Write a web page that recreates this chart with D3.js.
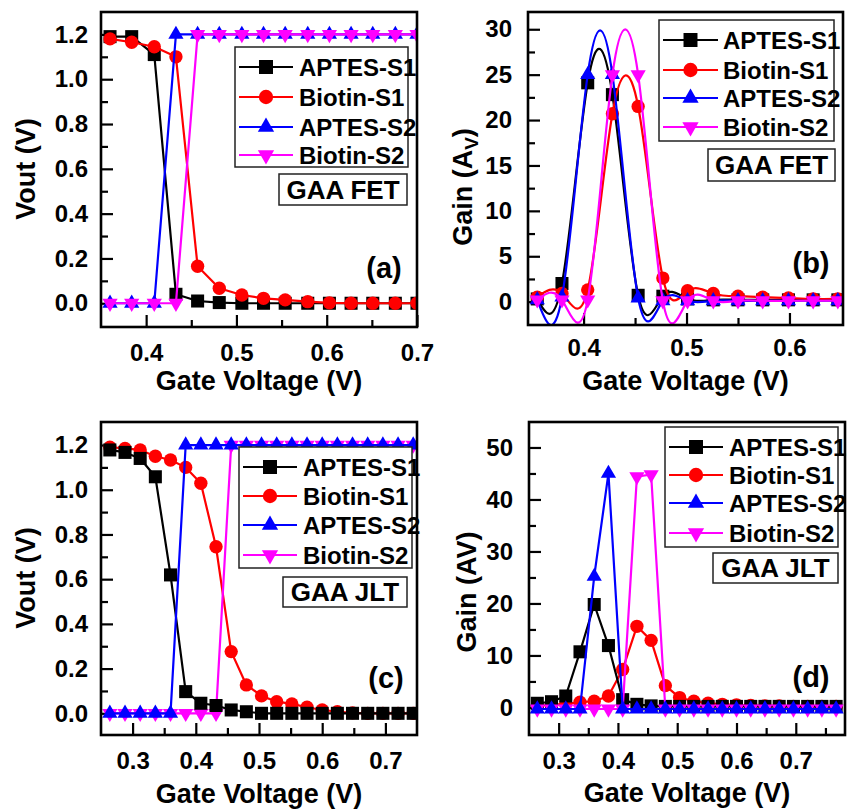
<!DOCTYPE html>
<html>
<head>
<meta charset="utf-8">
<script src="https://cdn.jsdelivr.net/npm/d3@7"></script>
<style>
  body { margin: 0; background: #fff; }
  svg { display: block; }
</style>
</head>
<body>
<div id="chart"></div>
<script>
// ---- data ----
const seriesNames = ["APTES-S1", "Biotin-S1", "APTES-S2", "Biotin-S2"];

// (a) GAA FET, Vout vs gate voltage
const fetVoutVg = [0.360, 0.384, 0.409, 0.433, 0.457, 0.481, 0.506, 0.530, 0.554, 0.579, 0.603, 0.627, 0.651, 0.676, 0.700];
const fetVoutAptesS1  = [1.19, 1.19, 1.11, 0.04, 0.01, 0.003, 0, 0, 0, 0, 0, 0, 0, 0, 0];
const fetVoutBiotinS1 = [1.18, 1.165, 1.145, 1.10, 0.165, 0.067, 0.037, 0.022, 0.015, 0.007, 0.002, 0, 0, 0, 0];
const fetVoutAptesS2  = [0, 0, 0, 1.2, 1.2, 1.2, 1.2, 1.2, 1.2, 1.2, 1.2, 1.2, 1.2, 1.2, 1.2];
const fetVoutBiotinS2 = [0, 0, 0, 0, 1.2, 1.2, 1.2, 1.2, 1.2, 1.2, 1.2, 1.2, 1.2, 1.2, 1.2];

// (b) GAA FET, gain
const fetGainVg = [0.355, 0.379, 0.404, 0.428, 0.453, 0.477, 0.501, 0.526, 0.550, 0.574, 0.599, 0.623, 0.647];
const fetGainAptesS1  = [0.3, 2.0, 24.1, 22.8, 0.7, 0.6, 0.3, 0.2, 0.2, 0.2, 0.2, 0.2, 0.2];
const fetGainBiotinS1 = [0.5, 0.9, 1.3, 20.7, 21.5, 2.6, 1.2, 0.9, 0.6, 0.5, 0.4, 0.3, 0.3];
const fetGainAptesS2  = [0.2, 0.5, 25.0, 25.0, 0.4, 0.1, 0.1, 0.1, 0.1, 0.1, 0.1, 0.1, 0.1];
const fetGainBiotinS2 = [0.2, 0.2, 0.2, 25.0, 25.0, 0.1, 0.1, 0.1, 0.1, 0.1, 0.1, 0.1, 0.1];

// (c) GAA JLT, Vout
const jltVoutVg = [0.264, 0.288, 0.312, 0.336, 0.360, 0.384, 0.408, 0.432, 0.456, 0.480, 0.504,
                   0.528, 0.552, 0.576, 0.600, 0.624, 0.648, 0.672, 0.696, 0.720, 0.744];
const jltVoutAptesS1  = [1.178, 1.167, 1.14, 1.058, 0.619, 0.097, 0.045, 0.035, 0.015, 0.007, 0, 0, 0, 0, 0, 0, 0, 0, 0, 0, 0];
const jltVoutBiotinS1 = [1.19, 1.185, 1.178, 1.15, 1.133, 1.10, 1.029, 0.745, 0.276, 0.127, 0.078,
                         0.052, 0.042, 0.027, 0.015, 0.007, 0.002, 0, 0, 0, 0];
const jltVoutAptesS2  = [0, 0, 0, 0, 0, 1.2, 1.2, 1.2, 1.2, 1.2, 1.2, 1.2, 1.2, 1.2, 1.2, 1.2, 1.2, 1.2, 1.2, 1.2, 1.2];
const jltVoutBiotinS2 = [0, 0, 0, 0, 0, 0, 0, 0, 1.2, 1.2, 1.2, 1.2, 1.2, 1.2, 1.2, 1.2, 1.2, 1.2, 1.2, 1.2, 1.2];

// (d) GAA JLT, gain
const jltGainVg = [0.264, 0.288, 0.312, 0.336, 0.360, 0.384, 0.408, 0.432, 0.456, 0.480, 0.504,
                   0.528, 0.552, 0.576, 0.600, 0.624, 0.648, 0.672, 0.696, 0.720, 0.744, 0.768];
const jltGainAptesS1  = [0.8, 1.1, 2.2, 10.7, 19.8, 11.9, 1.5, 0.6, 0.3, 0.2, 0.2, 0.2, 0.2, 0.2, 0.2, 0.2, 0.2, 0.2, 0.2, 0.2, 0.2, 0.2];
const jltGainBiotinS1 = [0.3, 0.5, 0.7, 1.0, 1.2, 2.2, 7.3, 15.6, 12.9, 4.2, 1.9, 1.2, 0.8, 0.6, 0.5, 0.4, 0.3, 0.3, 0.2, 0.2, 0.2, 0.2];
const jltGainAptesS2  = [-0.3, -0.3, -0.3, -0.3, 25.2, 45.0, -0.3, -0.3, -0.3, -0.3, -0.3, -0.3, -0.3, -0.3, -0.3, -0.3, -0.3, -0.3, -0.3, -0.3, -0.3, -0.3];
const jltGainBiotinS2 = [-0.3, -0.3, -0.3, -0.3, -0.3, -0.3, -0.3, 44.4, 44.8, -0.3, -0.3, -0.3, -0.3, -0.3, -0.3, -0.3, -0.3, -0.3, -0.3, -0.3, -0.3, -0.3];

// tick values
const voutTicks = [0, 0.2, 0.4, 0.6, 0.8, 1.0, 1.2];
const voutMinor = [0.1, 0.3, 0.5, 0.7, 0.9, 1.1];
const fetVgTicks = [0.4, 0.5, 0.6, 0.7];
const fetVgMinor = [0.45, 0.55, 0.65];
const fetGainTicks = [0, 5, 10, 15, 20, 25, 30];
const fetGainMinor = [2.5, 7.5, 12.5, 17.5, 22.5, 27.5];
const jltVgTicks = [0.3, 0.4, 0.5, 0.6, 0.7];
const jltVgMinor = [0.35, 0.45, 0.55, 0.65, 0.75];
const jltGainTicks = [0, 10, 20, 30, 40, 50];
const jltGainMinor = [5, 15, 25, 35, 45];

// ---- styles ----
const FONT = "'Liberation Sans', Arial, sans-serif";
const style = {
  "APTES-S1":  { color: "#000000", symbol: d3.symbolSquare,   size: 170, rot: 0 },
  "Biotin-S1": { color: "#ff0000", symbol: d3.symbolCircle,   size: 140, rot: 0 },
  "APTES-S2":  { color: "#0000ff", symbol: d3.symbolTriangle, size: 100, rot: 0 },
  "Biotin-S2": { color: "#ff00ff", symbol: d3.symbolTriangle, size: 100, rot: 180 }
};

const svg = d3.select("#chart").append("svg")
  .attr("width", 849)
  .attr("height", 812)
  .style("font-family", FONT)
  .style("font-weight", "bold");

const drawPanel = p => {
  const x = d3.scaleLinear().domain(p.xDomain).range([p.left, p.right]);
  const y = d3.scaleLinear().domain(p.yDomain).range([p.bottom, p.top]);
  const g = svg.append("g");

  g.append("clipPath").attr("id", p.id + "-clip")
    .append("rect")
      .attr("x", p.left).attr("y", p.top)
      .attr("width", p.right - p.left).attr("height", p.bottom - p.top);

  // inward ticks, bottom and left only
  const styleAxis = a => {
    a.select(".domain").remove();
    a.attr("font-size", 24).attr("font-family", FONT).attr("font-weight", "bold");
    a.selectAll(".tick line").attr("stroke-width", 2.2);
  };
  g.append("g")
    .attr("transform", `translate(0,${p.bottom})`)
    .call(d3.axisBottom(x).tickValues(p.xTicks).tickFormat(d3.format(".1f"))
      .tickSize(-12).tickSizeOuter(0).tickPadding(p.xPad))
    .call(styleAxis);
  g.append("g")
    .attr("transform", `translate(0,${p.bottom})`)
    .call(d3.axisBottom(x).tickValues(p.xMinor).tickFormat("").tickSize(-7).tickSizeOuter(0))
    .call(styleAxis);
  g.append("g")
    .attr("transform", `translate(${p.left},0)`)
    .call(d3.axisLeft(y).tickValues(p.yTicks).tickFormat(d3.format(p.yFmt))
      .tickSize(-12).tickSizeOuter(0).tickPadding(p.yPad))
    .call(styleAxis);
  g.append("g")
    .attr("transform", `translate(${p.left},0)`)
    .call(d3.axisLeft(y).tickValues(p.yMinor).tickFormat("").tickSize(-7).tickSizeOuter(0))
    .call(styleAxis);

  // series
  const plot = g.append("g").attr("clip-path", `url(#${p.id}-clip)`);
  const line = d3.line().x(d => x(d.x)).y(d => y(d.y)).curve(p.curve);
  p.order.forEach(name => {
    const s = style[name];
    const pts = p.xs.map((v, i) => ({ x: v, y: p.series[name][i] }));
    plot.append("path")
      .datum(pts)
      .attr("fill", "none")
      .attr("stroke", s.color)
      .attr("stroke-width", 2.2)
      .attr("stroke-linejoin", "round")
      .attr("d", line);
    plot.selectAll(null)
      .data(pts)
      .join("path")
        .attr("transform", d => `translate(${x(d.x)},${y(d.y)}) rotate(${s.rot})`)
        .attr("d", d3.symbol(s.symbol, s.size))
        .attr("fill", s.color);
  });

  // frame
  g.append("rect")
    .attr("x", p.left).attr("y", p.top)
    .attr("width", p.right - p.left).attr("height", p.bottom - p.top)
    .attr("fill", "none").attr("stroke", "#000").attr("stroke-width", 2.6);

  // legend
  const L = p.legend;
  g.append("rect")
    .attr("x", L.x).attr("y", L.y).attr("width", L.w).attr("height", L.h)
    .attr("fill", "#fff").attr("stroke", "#222").attr("stroke-width", 1.5);
  seriesNames.forEach((name, i) => {
    const s = style[name];
    const ry = L.rows[i];
    g.append("line")
      .attr("x1", L.x0).attr("x2", L.x1).attr("y1", ry).attr("y2", ry)
      .attr("stroke", s.color).attr("stroke-width", 2.2);
    g.append("path")
      .attr("transform", `translate(${(L.x0 + L.x1) / 2},${ry}) rotate(${s.rot})`)
      .attr("d", d3.symbol(s.symbol, s.size * 1.15))
      .attr("fill", s.color);
    g.append("text")
      .attr("x", L.tx).attr("y", ry).attr("dy", "0.36em")
      .style("font-size", "24px")
      .text(name);
  });

  // device label box
  const D = p.device;
  g.append("rect")
    .attr("x", D.x).attr("y", D.y).attr("width", D.w).attr("height", D.h)
    .attr("fill", "#fff").attr("stroke", "#222").attr("stroke-width", 1.5);
  g.append("text")
    .attr("x", D.x + D.w / 2).attr("y", D.y + D.h / 2).attr("dy", "0.36em")
    .attr("text-anchor", "middle")
    .style("font-size", "26px")
    .text(D.text);

  // panel tag
  g.append("text")
    .attr("x", p.tag.x).attr("y", p.tag.y)
    .attr("text-anchor", "middle")
    .style("font-size", "29px")
    .text(p.tag.text);

  // axis titles
  g.append("text")
    .attr("x", (p.left + p.right) / 2).attr("y", p.xTitleY)
    .attr("text-anchor", "middle")
    .style("font-size", "27px")
    .text("Gate Voltage (V)");

  const yt = g.append("text")
    .attr("transform", `translate(${p.yTitle.x},${p.yTitle.y}) rotate(-90)`)
    .attr("text-anchor", "middle")
    .style("font-size", "27px");
  if (p.yTitle.sub) {
    yt.append("tspan").text(p.yTitle.text);
    yt.append("tspan").attr("dy", 6).style("font-size", "19px").text(p.yTitle.sub);
    yt.append("tspan").attr("dy", -6).text(")");
  } else {
    yt.text(p.yTitle.text);
  }
};

// (a)
drawPanel({
  id: "pa", left: 101, right: 417, top: 12, bottom: 327,
  xDomain: [0.35, 0.70], yDomain: [-0.106, 1.3],
  xTicks: fetVgTicks, xMinor: fetVgMinor, yTicks: voutTicks, yMinor: voutMinor, yFmt: ".1f",
  xPad: 17, yPad: 13, curve: d3.curveLinear,
  xs: fetVoutVg,
  series: { "APTES-S1": fetVoutAptesS1, "Biotin-S1": fetVoutBiotinS1, "APTES-S2": fetVoutAptesS2, "Biotin-S2": fetVoutBiotinS2 },
  order: ["APTES-S1", "Biotin-S1", "APTES-S2", "Biotin-S2"],
  legend: { x: 235, y: 47, w: 173, h: 120, rows: [67, 97, 127, 155], x0: 239, x1: 293, tx: 299 },
  device: { x: 279, y: 174, w: 128, h: 31, text: "GAA FET" },
  tag: { x: 384, y: 278, text: "(a)" },
  xTitleY: 390,
  yTitle: { x: 35, y: 169, text: "Vout (V)" }
});

// (b)
drawPanel({
  id: "pb", left: 528, right: 843, top: 12, bottom: 325,
  xDomain: [0.346, 0.652], yDomain: [-2.57, 31.9],
  xTicks: [0.4, 0.5, 0.6], xMinor: [0.45, 0.55], yTicks: fetGainTicks, yMinor: fetGainMinor, yFmt: "d",
  xPad: 14, yPad: 16, curve: d3.curveNatural,
  xs: fetGainVg,
  series: { "APTES-S1": fetGainAptesS1, "Biotin-S1": fetGainBiotinS1, "APTES-S2": fetGainAptesS2, "Biotin-S2": fetGainBiotinS2 },
  order: ["APTES-S1", "Biotin-S1", "APTES-S2", "Biotin-S2"],
  legend: { x: 659, y: 20, w: 175, h: 121, rows: [40, 70, 98, 127], x0: 663, x1: 718, tx: 723 },
  device: { x: 708, y: 149, w: 127, h: 32, text: "GAA FET" },
  tag: { x: 811, y: 273, text: "(b)" },
  xTitleY: 390,
  yTitle: { x: 472, y: 187, text: "Gain (A", sub: "V" }
});

// (c)
drawPanel({
  id: "pc", left: 101, right: 417, top: 422, bottom: 735,
  xDomain: [0.25, 0.75], yDomain: [-0.097, 1.303],
  xTicks: jltVgTicks, xMinor: [0.35, 0.45, 0.55, 0.65], yTicks: voutTicks, yMinor: voutMinor, yFmt: ".1f",
  xPad: 17, yPad: 13, curve: d3.curveLinear,
  xs: jltVoutVg,
  series: { "APTES-S1": jltVoutAptesS1, "Biotin-S1": jltVoutBiotinS1, "APTES-S2": jltVoutAptesS2, "Biotin-S2": jltVoutBiotinS2 },
  order: ["Biotin-S1", "Biotin-S2", "APTES-S1", "APTES-S2"],
  legend: { x: 239, y: 447, w: 173, h: 121, rows: [467, 496, 525, 555], x0: 243, x1: 297, tx: 303 },
  device: { x: 283, y: 577, w: 124, h: 30, text: "GAA JLT" },
  tag: { x: 386, y: 688, text: "(c)" },
  xTitleY: 803,
  yTitle: { x: 35, y: 578, text: "Vout (V)" }
});

// (d)
drawPanel({
  id: "pd", left: 529, right: 845, top: 422, bottom: 735,
  xDomain: [0.25, 0.783], yDomain: [-5.3, 54.9],
  xTicks: jltVgTicks, xMinor: jltVgMinor, yTicks: jltGainTicks, yMinor: jltGainMinor, yFmt: "d",
  xPad: 17, yPad: 16, curve: d3.curveLinear,
  xs: jltGainVg,
  series: { "APTES-S1": jltGainAptesS1, "Biotin-S1": jltGainBiotinS1, "APTES-S2": jltGainAptesS2, "Biotin-S2": jltGainBiotinS2 },
  order: ["Biotin-S1", "APTES-S1", "Biotin-S2", "APTES-S2"],
  legend: { x: 665, y: 427, w: 173, h: 120, rows: [447, 475, 503, 533], x0: 669, x1: 723, tx: 729 },
  device: { x: 713, y: 553, w: 125, h: 30, text: "GAA JLT" },
  tag: { x: 811, y: 687, text: "(d)" },
  xTitleY: 802,
  yTitle: { x: 476, y: 592, text: "Gain (AV)" }
});
</script>
</body>
</html>
